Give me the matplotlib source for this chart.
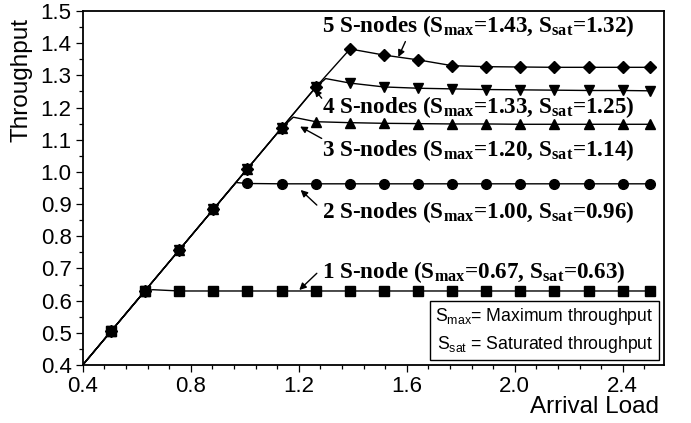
import matplotlib
matplotlib.use("Agg")
import matplotlib.pyplot as plt
from matplotlib.ticker import MultipleLocator, FormatStrFormatter

plt.rcParams['mathtext.fontset'] = 'custom'
plt.rcParams['mathtext.rm'] = 'Liberation Sans'
plt.rcParams['mathtext.it'] = 'Liberation Sans:italic'
plt.rcParams['mathtext.bf'] = 'Liberation Serif:bold'
plt.rcParams['font.family'] = ['Liberation Sans', 'DejaVu Sans']

# ---------------- data ----------------
load = [0.505, 0.631, 0.758, 0.884, 1.010, 1.137, 1.263, 1.390, 1.516,
        1.643, 1.769, 1.895, 2.021, 2.147, 2.274, 2.400, 2.500]
start_load = 0.379

thr_1 = [0.505, 0.630, 0.630, 0.630, 0.630, 0.630, 0.630, 0.630, 0.630,
         0.630, 0.630, 0.630, 0.630, 0.630, 0.630, 0.630, 0.630]
thr_2 = [0.505, 0.631, 0.758, 0.884, 0.964, 0.963, 0.963, 0.963, 0.963,
         0.963, 0.963, 0.963, 0.963, 0.963, 0.963, 0.963, 0.963]
thr_3 = [0.505, 0.631, 0.758, 0.884, 1.010, 1.137, 1.156, 1.153, 1.151,
         1.150, 1.149, 1.149, 1.148, 1.148, 1.148, 1.148, 1.148]
thr_4 = [0.505, 0.631, 0.758, 0.884, 1.010, 1.137, 1.263, 1.276, 1.264,
         1.260, 1.258, 1.256, 1.255, 1.254, 1.253, 1.253, 1.252]
thr_5 = [0.505, 0.631, 0.758, 0.884, 1.010, 1.137, 1.263, 1.382, 1.363,
         1.348, 1.330, 1.327, 1.326, 1.325, 1.325, 1.325, 1.325]

# knee of each curve (line only, no marker)
knee_load = [0.660, 0.968, 1.180, 1.300, 1.390]
knee_thr = [0.634, 0.967, 1.170, 1.290, 1.382]

series = [thr_1, thr_2, thr_3, thr_4, thr_5]
markers = ['s', 'o', '^', 'v', 'D']
msizes = [6.5, 7.0, 7.0, 7.0, 6.5]

labels = [
    r'1 S-node ($\mathbf{S}_{\mathbf{max}}$=0.67, $\mathbf{S}_{\mathbf{sat}}$=0.63)',
    r'2 S-nodes ($\mathbf{S}_{\mathbf{max}}$=1.00, $\mathbf{S}_{\mathbf{sat}}$=0.96)',
    r'3 S-nodes ($\mathbf{S}_{\mathbf{max}}$=1.20, $\mathbf{S}_{\mathbf{sat}}$=1.14)',
    r'4 S-nodes ($\mathbf{S}_{\mathbf{max}}$=1.33, $\mathbf{S}_{\mathbf{sat}}$=1.25)',
    r'5 S-nodes ($\mathbf{S}_{\mathbf{max}}$=1.43, $\mathbf{S}_{\mathbf{sat}}$=1.32)',
]
label_pos = [(1.288, 0.669), (1.288, 0.858), (1.288, 1.050), (1.288, 1.182), (1.288, 1.436)]
arrow_tail = [(1.267, 0.685), (1.267, 0.897), (1.285, 1.104), (1.285, 1.229), (1.595, 1.405)]
arrow_tip = [(1.202, 0.633), (1.207, 0.944), (1.205, 1.141), (1.258, 1.257), (1.569, 1.357)]

xticks = [0.4, 0.8, 1.2, 1.6, 2.0, 2.4]
xtick_labels = ['0.4', '0.8', '1.2', '1.6', '2.0', '2.4']

# ---------------- figure ----------------
fig = plt.figure(figsize=(6.91, 4.23), dpi=100)
ax = fig.add_axes([0.1197, 0.1371, 0.8417, 0.8369])

for thr, kx, ky, mk, ms in zip(series, knee_load, knee_thr, markers, msizes):
    pts = sorted([(start_load, start_load)] + list(zip(load, thr)) + [(kx, ky)])
    ax.plot([p[0] for p in pts], [p[1] for p in pts], '-', color='black', lw=1.0)
    ax.plot(load, thr, ls='none', marker=mk, ms=ms, color='black', mec='black')

for txt, (tx, ty), tail, tip in zip(labels, label_pos, arrow_tail, arrow_tip):
    ax.text(tx, ty, txt, family='Liberation Serif', weight='bold', fontsize=16.7,
            ha='left', va='baseline')
    ax.annotate('', xy=tip, xytext=tail,
                arrowprops=dict(arrowstyle='-|>', color='black', lw=1.0,
                                mutation_scale=10, shrinkA=0, shrinkB=0))

ax.text(0.982, 0.028,
        r'$\mathrm{S}_{\mathrm{max}}$= Maximum throughput' + '\n' +
        r'$\mathrm{S}_{\mathrm{sat}}$ = Saturated throughput',
        transform=ax.transAxes, ha='right', va='bottom', fontsize=12.7,
        linespacing=1.45,
        bbox=dict(boxstyle='square,pad=0.3', fc='white', ec='black', lw=1.0))

ax.set_xlim(0.4, 2.554)
ax.set_ylim(0.4, 1.5)
ax.set_xticks(xticks)
ax.set_xticklabels(xtick_labels)
ax.xaxis.set_minor_locator(MultipleLocator(0.08))
ax.yaxis.set_major_locator(MultipleLocator(0.1))
ax.yaxis.set_minor_locator(MultipleLocator(0.05))
ax.yaxis.set_major_formatter(FormatStrFormatter('%.1f'))
ax.tick_params(which='major', direction='out', length=5, width=0.9, labelsize=16, pad=3)
ax.tick_params(which='minor', direction='out', length=3, width=0.9)
for sp in ax.spines.values():
    sp.set_linewidth(1.3)

fig.text(22 / 691, 1 - 80 / 423, 'Throughput', rotation=90, ha='center', va='center', fontsize=17.5)
fig.text(594 / 691, (423 - 413) / 423, 'Arrival Load', ha='center', va='baseline', fontsize=17.5)

fig.savefig('out.png', dpi=100)
